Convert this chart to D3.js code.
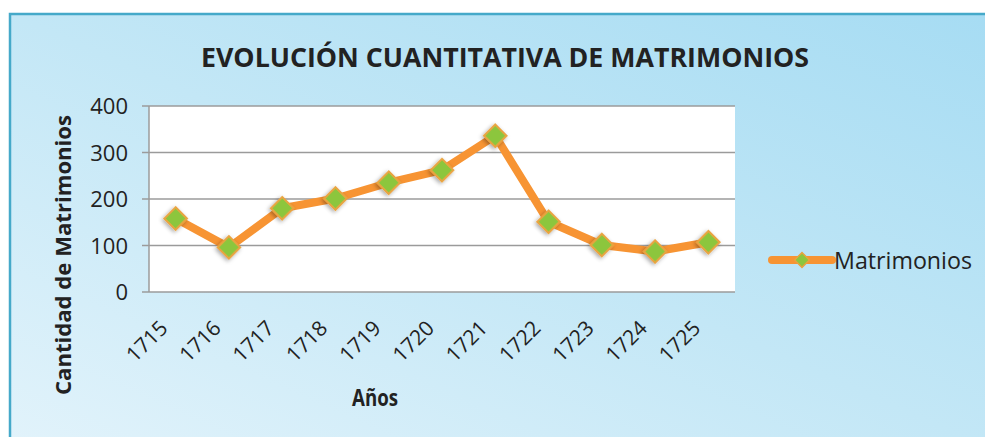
<!DOCTYPE html>
<html>
<head>
<meta charset="utf-8">
<script src="https://cdn.jsdelivr.net/npm/d3@7"></script>
<style>
  html, body { margin: 0; padding: 0; background: #fff; }
  svg { display: block; }
  text { font-family: "Open Sans", "DejaVu Sans", sans-serif; fill: #222; }
</style>
</head>
<body>
<script>
// data
var years = ["1715","1716","1717","1718","1719","1720","1721","1722","1723","1724","1725"];
var matrimonios = [158, 96, 180, 201, 235, 262, 336, 151, 101, 87, 107];
var yTicks = [0, 100, 200, 300, 400];
var seriesName = "Matrimonios";

var W = 985, H = 437;
var plot = {left: 149, right: 735, top: 106, bottom: 292};

var svg = d3.select("body").append("svg").attr("width", W).attr("height", H);
var defs = svg.append("defs");

var grad = defs.append("linearGradient").attr("id", "bg")
  .attr("x1", "0%").attr("y1", "100%").attr("x2", "100%").attr("y2", "0%");
grad.append("stop").attr("offset", "0%").attr("stop-color", "#e2f3fb");
grad.append("stop").attr("offset", "50%").attr("stop-color", "#c3e7f6");
grad.append("stop").attr("offset", "100%").attr("stop-color", "#a6dcf3");

var shadow = defs.append("filter").attr("id", "shadow")
  .attr("x", "-50%").attr("y", "-50%").attr("width", "200%").attr("height", "200%");
shadow.append("feDropShadow").attr("dx", 0).attr("dy", 2).attr("stdDeviation", 2)
  .attr("flood-color", "#000").attr("flood-opacity", 0.35);

// frame
svg.append("rect").attr("x", 10).attr("y", 14).attr("width", W).attr("height", H)
  .attr("fill", "url(#bg)").attr("stroke", "#45a9c9").attr("stroke-width", 2.5);

var x = d3.scaleBand().domain(years).range([plot.left, plot.right]);
var y = d3.scaleLinear().domain([0, 400]).range([plot.bottom, plot.top]);

svg.append("rect").attr("x", plot.left).attr("y", plot.top)
  .attr("width", plot.right - plot.left).attr("height", plot.bottom - plot.top)
  .attr("fill", "#fff");

// grid
svg.append("g").selectAll("line").data(yTicks).enter().append("line")
  .attr("x1", plot.left - 7).attr("x2", plot.right)
  .attr("y1", function(d){ return y(d); }).attr("y2", function(d){ return y(d); })
  .attr("stroke", "#9b9b9b").attr("stroke-width", 1.5);

svg.append("line").attr("x1", plot.left).attr("x2", plot.left)
  .attr("y1", plot.top).attr("y2", plot.bottom)
  .attr("stroke", "#9b9b9b").attr("stroke-width", 1.5);

// y axis labels
var yAxis = d3.axisLeft(y).tickValues(yTicks).tickSize(0).tickPadding(0);
var gy = svg.append("g").attr("transform", "translate(128,0)").call(yAxis);
gy.select(".domain").remove();
gy.selectAll("text").attr("font-size", 22).attr("fill", "#222")
  .attr("font-family", "Open Sans, sans-serif").attr("dy", "0.36em");

// x axis labels
svg.append("g").selectAll("text").data(years).enter().append("text")
  .attr("transform", function(d){
    return "translate(" + (x(d) + x.bandwidth() / 2 - 17) + "," + 319 + ") rotate(-45)";
  })
  .attr("text-anchor", "end").attr("dy", "0.7em").attr("font-size", 21)
  .text(function(d){ return d; });

// line
var line = d3.line()
  .x(function(d, i){ return x(years[i]) + x.bandwidth() / 2; })
  .y(function(d){ return y(d); });

svg.append("path").datum(matrimonios).attr("d", line)
  .attr("fill", "none").attr("stroke", "#f79433").attr("stroke-width", 8)
  .attr("stroke-linejoin", "round").attr("stroke-linecap", "round");

var diamond = d3.symbol().type(d3.symbolSquare).size(250);
svg.append("g").selectAll("path").data(matrimonios).enter().append("path")
  .attr("d", diamond)
  .attr("transform", function(d, i){
    return "translate(" + (x(years[i]) + x.bandwidth() / 2) + "," + y(d) + ") rotate(45)";
  })
  .attr("fill", "#8cc63e").attr("stroke", "#e8a33f").attr("stroke-width", 2)
  .attr("filter", "url(#shadow)");

// titles
svg.append("text").attr("x", 505).attr("y", 67).attr("text-anchor", "middle")
  .attr("font-size", 27).attr("font-weight", "bold")
  .attr("textLength", 608).attr("lengthAdjust", "spacingAndGlyphs")
  .text("EVOLUCIÓN CUANTITATIVA DE MATRIMONIOS");

svg.append("text").attr("x", 375).attr("y", 406).attr("text-anchor", "middle")
  .attr("font-size", 23).attr("font-weight", "bold")
  .attr("textLength", 46).attr("lengthAdjust", "spacingAndGlyphs")
  .text("Años");

svg.append("text").attr("transform", "translate(71,255) rotate(-90)")
  .attr("text-anchor", "middle").attr("font-size", 22).attr("font-weight", "bold")
  .attr("textLength", 280).attr("lengthAdjust", "spacingAndGlyphs")
  .text("Cantidad de Matrimonios");

// legend
var lg = svg.append("g").attr("transform", "translate(772,260)");
lg.append("line").attr("x1", 0).attr("x2", 60).attr("y1", 0).attr("y2", 0)
  .attr("stroke", "#f79433").attr("stroke-width", 8).attr("stroke-linecap", "round");
lg.append("path").attr("d", d3.symbol().type(d3.symbolSquare).size(110))
  .attr("transform", "translate(30,0) rotate(45)")
  .attr("fill", "#8cc63e").attr("stroke", "#e8a33f").attr("stroke-width", 1.5);
lg.append("text").attr("x", 62).attr("y", 9).attr("font-size", 23)
  .attr("textLength", 138).attr("lengthAdjust", "spacingAndGlyphs")
  .text(seriesName);
</script>
</body>
</html>
